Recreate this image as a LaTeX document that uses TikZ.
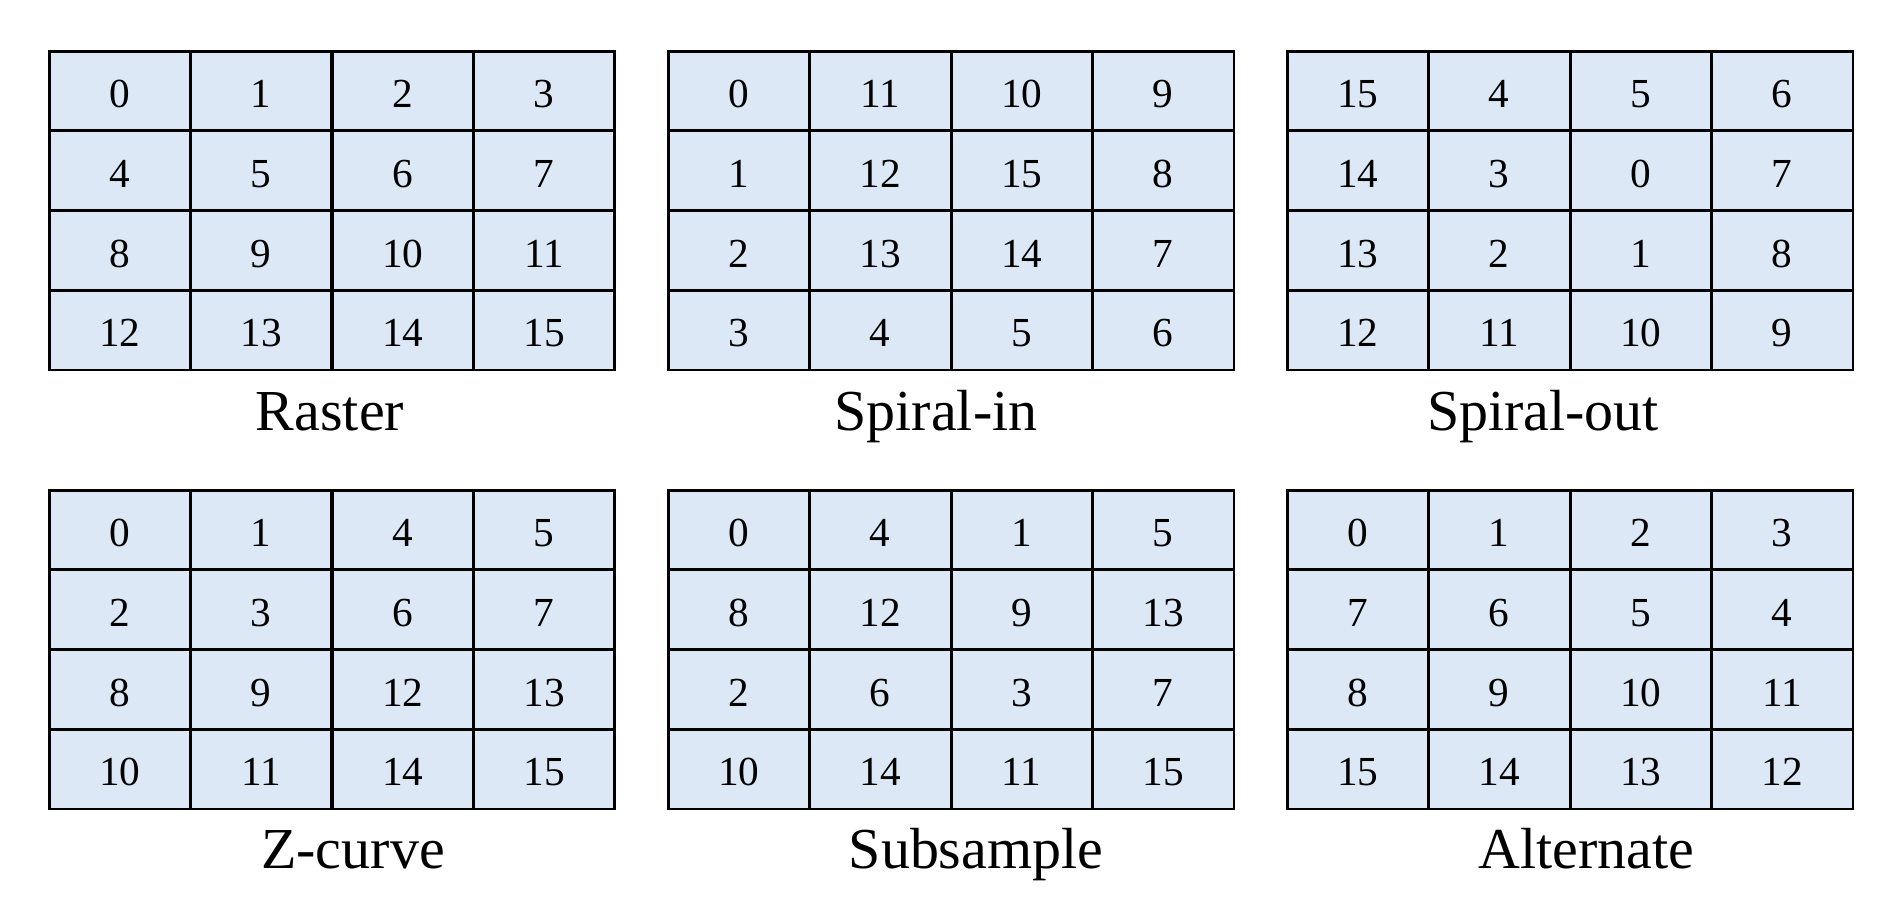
\documentclass[tikz,border=0pt]{standalone}
\usepackage{tikz}
\usepackage{fontspec}
\setmainfont{Liberation Serif}

\definecolor{cellblue}{HTML}{DCE8F5}

\begin{document}
\begin{tikzpicture}[x=0.02cm, y=-0.02cm,
    cell/.style={draw=black, fill=cellblue, line width=1.7pt, inner sep=0pt,
      minimum width=2.83cm, minimum height=1.595cm, text height=19pt, text depth=0pt,
      font=\fontsize{23.5}{28}\selectfont},
    caption/.style={anchor=base, font=\fontsize{33}{38}\selectfont}]

   \useasboundingbox (0,0) rectangle (1901,899);

   % top row
   \foreach \n [count=\i from 0] in {0,1,2,3,4,5,6,7,8,9,10,11,12,13,14,15}
      \node[cell] (ra\i) at ({49+70.75+141.5*mod(\i,4)}, {51+39.875+79.75*div(\i,4)}) {\n};
   \node[caption] (ra-cap) at (330,430) {Raster};

   \foreach \n [count=\i from 0] in {0,11,10,9,1,12,15,8,2,13,14,7,3,4,5,6}
      \node[cell] (si\i) at ({668+70.75+141.5*mod(\i,4)}, {51+39.875+79.75*div(\i,4)}) {\n};
   \node[caption] (si-cap) at (936,430) {Spiral-in};

   \foreach \n [count=\i from 0] in {15,4,5,6,14,3,0,7,13,2,1,8,12,11,10,9}
      \node[cell] (so\i) at ({1287+70.75+141.5*mod(\i,4)}, {51+39.875+79.75*div(\i,4)}) {\n};
   \node[caption] (so-cap) at (1543,430) {Spiral-out};

   % bottom row
   \foreach \n [count=\i from 0] in {0,1,4,5,2,3,6,7,8,9,12,13,10,11,14,15}
      \node[cell] (zc\i) at ({49+70.75+141.5*mod(\i,4)}, {490+39.875+79.75*div(\i,4)}) {\n};
   \node[caption] (zc-cap) at (353,868) {Z-curve};

   \foreach \n [count=\i from 0] in {0,4,1,5,8,12,9,13,2,6,3,7,10,14,11,15}
      \node[cell] (ss\i) at ({668+70.75+141.5*mod(\i,4)}, {490+39.875+79.75*div(\i,4)}) {\n};
   \node[caption] (ss-cap) at (976,868) {Subsample};

   \foreach \n [count=\i from 0] in {0,1,2,3,7,6,5,4,8,9,10,11,15,14,13,12}
      \node[cell] (al\i) at ({1287+70.75+141.5*mod(\i,4)}, {490+39.875+79.75*div(\i,4)}) {\n};
   \node[caption] (al-cap) at (1586,868) {Alternate};

\end{tikzpicture}
\end{document}
